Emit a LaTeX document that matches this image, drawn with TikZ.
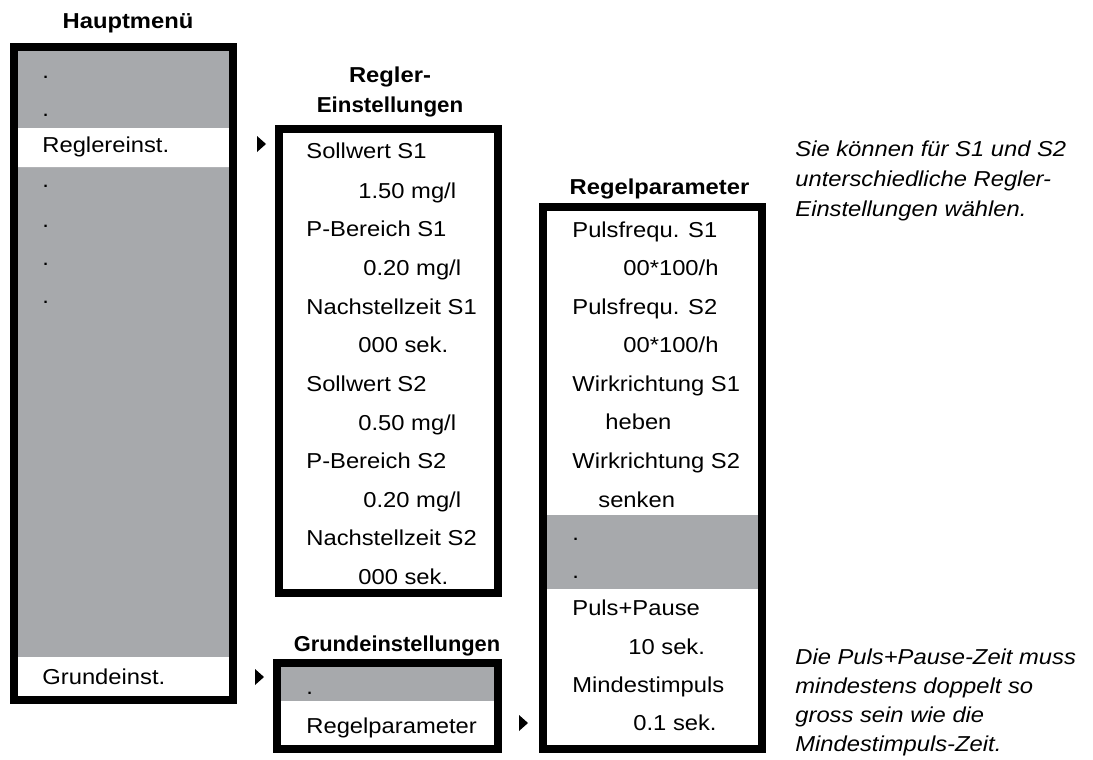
\documentclass[tikz,border=0pt]{standalone}
\usepackage{fontspec}
\usepackage{graphicx}
\setmainfont{Liberation Sans}[FakeStretch=1.1]
\definecolor{menugray}{RGB}{167,169,172}
\newcommand{\menusize}{\fontsize{10.8}{15}\selectfont}
\begin{document}
\begin{tikzpicture}[x=0.5pt, y=-0.5pt,
	every node/.style={font=\menusize, inner sep=0pt},
	item/.style={anchor=west, text height=0.72em, text depth=0pt},
	dotitem/.style={anchor=base west},
	title/.style={font=\menusize\bfseries, text height=0.72em, text depth=0pt},
	note/.style={anchor=north west, align=left, font=\menusize\itshape},
	frame/.style={line width=4pt}]
	\useasboundingbox (0,0) rectangle (1093,760);

	% Hauptmenue
	\fill[menugray] (18,51) rectangle (229,696);
	\fill[white] (18,128) rectangle (229,167) (18,657) rectangle (229,696);
	\draw[frame] (14,47) rectangle (233,700);
	\draw	(128,21)	node[title] (haupt) {Hauptmenü}
		(42,78)		node[dotitem] (h1) {.}
		(42,116)	node[dotitem] (h2) {.}
		(42,145)	node[item] (reglereinst) {Reglereinst.}
		(42,187)	node[dotitem] (h3) {.}
		(42,227)	node[dotitem] (h4) {.}
		(42,265)	node[dotitem] (h5) {.}
		(42,303)	node[dotitem] (h6) {.}
		(42,677)	node[item] (grundeinst) {Grundeinst.}
	;

	% Regler-Einstellungen
	\draw[frame] (279,129) rectangle (498,593);
	\draw	(390,75.5)	node[title] (regler) {Regler-}
		(390,105.5)	node[title] (einst) {\scalebox{0.94}[1]{Einstellungen}}
		(306,151.5)	node[item] (sw1) {Sollwert S1}
		(358,191)	node[item] (sw1v) {1.50 mg/l}
		(306,229)	node[item] (pb1) {P-Bereich S1}
		(363,268)	node[item] (pb1v) {0.20 mg/l}
		(306,307)	node[item] (nz1) {Nachstellzeit S1}
		(358,345)	node[item] (nz1v) {000 sek.}
		(306,384)	node[item] (sw2) {Sollwert S2}
		(358,423)	node[item] (sw2v) {0.50 mg/l}
		(306,461)	node[item] (pb2) {P-Bereich S2}
		(363,500)	node[item] (pb2v) {0.20 mg/l}
		(306,538)	node[item] (nz2) {Nachstellzeit S2}
		(358,577)	node[item] (nz2v) {000 sek.}
	;

	% Grundeinstellungen
	\fill[menugray] (281,667) rectangle (494,701);
	\draw[frame] (277,663) rectangle (498,749);
	\draw	(397,644)	node[title] (grund) {\scalebox{0.92}[1]{Grundeinstellungen}}
		(306,694)	node[dotitem] (g1) {.}
		(306,726)	node[item] (regelpar) {Regelparameter}
	;

	% Regelparameter
	\fill[menugray] (547,515) rectangle (758,589);
	\draw[frame] (543,207) rectangle (762,749);
	\draw	(659.5,187)	node[title] (param) {Regelparameter}
		(572,230)	node[item] (pf1) {Pulsfrequ. S1}
		(623,268)	node[item] (pf1v) {00*100/h}
		(572,307)	node[item] (pf2) {Pulsfrequ. S2}
		(623,345)	node[item] (pf2v) {00*100/h}
		(572,384)	node[item] (wr1) {Wirkrichtung S1}
		(605,422)	node[item] (wr1v) {heben}
		(572,461)	node[item] (wr2) {Wirkrichtung S2}
		(598,500)	node[item] (wr2v) {senken}
		(572,540)	node[dotitem] (p1) {.}
		(572,578)	node[dotitem] (p2) {.}
		(572,608)	node[item] (pp) {Puls+Pause}
		(628,647)	node[item] (ppv) {10 sek.}
		(572,685)	node[item] (mi) {Mindestimpuls}
		(633,723)	node[item] (miv) {0.1 sek.}
	;

	% Pfeile
	\fill (257,136) -- ++(9,8) -- ++(-9,8) -- cycle;
	\fill (255,669) -- ++(9,8) -- ++(-9,8) -- cycle;
	\fill (519,715) -- ++(9,8) -- ++(-9,8) -- cycle;

	% Hinweise
	\node[note] (note1) at (795,140) {Sie können für S1 und S2\\unterschiedliche Regler-\\Einstellungen wählen.};
	\node[note, font=\fontsize{10.8}{14.6}\selectfont\itshape] (note2) at (795,648) {Die Puls+Pause-Zeit muss\\mindestens doppelt so\\gross sein wie die\\Mindestimpuls-Zeit.};
\end{tikzpicture}
\end{document}
